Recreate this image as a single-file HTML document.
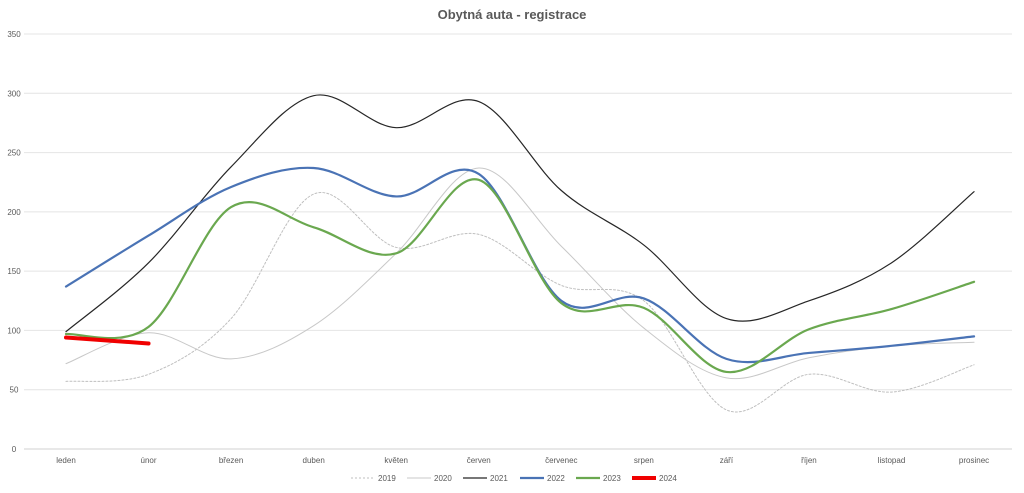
<!DOCTYPE html>
<html><head><meta charset="utf-8"><style>
body{margin:0;background:#fff;font-family:"Liberation Sans",sans-serif}
svg text{font-family:"Liberation Sans",sans-serif;fill:#595959}
</style></head><body>
<svg id="s" width="1024" height="488" xmlns="http://www.w3.org/2000/svg">
<text x="512" y="19" text-anchor="middle" font-size="13" font-weight="bold" style="fill:#595959">Obytná auta - registrace</text>
<g id="grid"></g>
<g id="lines" fill="none"></g>
<g id="leg"></g>
</svg>
<script>
const s=document.getElementById('s'),NS='http://www.w3.org/2000/svg';
function el(t,a,p,txt){const e=document.createElementNS(NS,t);for(const k in a)e.setAttribute(k,a[k]);if(txt!=null)e.textContent=txt;(p||s).appendChild(e);return e}
const Y=v=>449-v*415/350, X=i=>66+i*82.55;
const g=document.getElementById('grid');
for(let v=0;v<=350;v+=50){el('line',{x1:24,x2:1012,y1:Y(v),y2:Y(v),stroke:v?'#e4e4e4':'#d0d0d0','stroke-width':1},g);
el('text',{x:14,y:Y(v)+3,'font-size':8,'text-anchor':'middle'},g,v)}
const m=['leden','únor','březen','duben','květen','červen','červenec','srpen','září','říjen','listopad','prosinec'];
m.forEach((t,i)=>el('text',{x:X(i),y:463,'font-size':8,'text-anchor':'middle'},g,t));
function path(d){const p=d.map((v,i)=>[X(i),Y(v)]);let s='M'+p[0];
for(let i=0;i<p.length-1;i++){const a=p[i-1]||p[i],b=p[i],c=p[i+1],e=p[i+2]||c;
s+=` C${b[0]+(c[0]-a[0])/6},${b[1]+(c[1]-a[1])/6} ${c[0]-(e[0]-b[0])/6},${c[1]-(e[1]-b[1])/6} ${c}`}return s}
const L=document.getElementById('lines');
const ser=[
['2019',[57,63,110,215,170,181,138,125,33,63,48,71],'#bfbfbf',1,'2,2'],
['2020',[72,98,76,104,165,237,171,102,60,77,87,90],'#c8c8c8',1,''],
['2021',[99,157,238,298,271,293,218,172,110,125,157,217],'#262626',1.2,''],
['2022',[137,180,221,237,213,232,125,127,76,81,87,95],'#4a73b5',2.2,''],
['2023',[97,103,204,187,165,227,123,119,65,101,118,141],'#6aa84f',2.2,''],
['2024',[94,89],'#f00000',4,'']];
ser.forEach(a=>el('path',{d:path(a[1]),stroke:a[2],'stroke-width':a[3],'stroke-dasharray':a[4],'stroke-linecap':'round'},L));
const lx=[351,407,463,520,576,632];
ser.forEach((a,i)=>{const x=lx[i];el('line',{x1:x,x2:x+24,y1:478,y2:478,stroke:a[2],'stroke-width':a[3],'stroke-dasharray':a[4]});
el('text',{x:x+27,y:481,'font-size':8},s,a[0])});
</script>
</body></html>
